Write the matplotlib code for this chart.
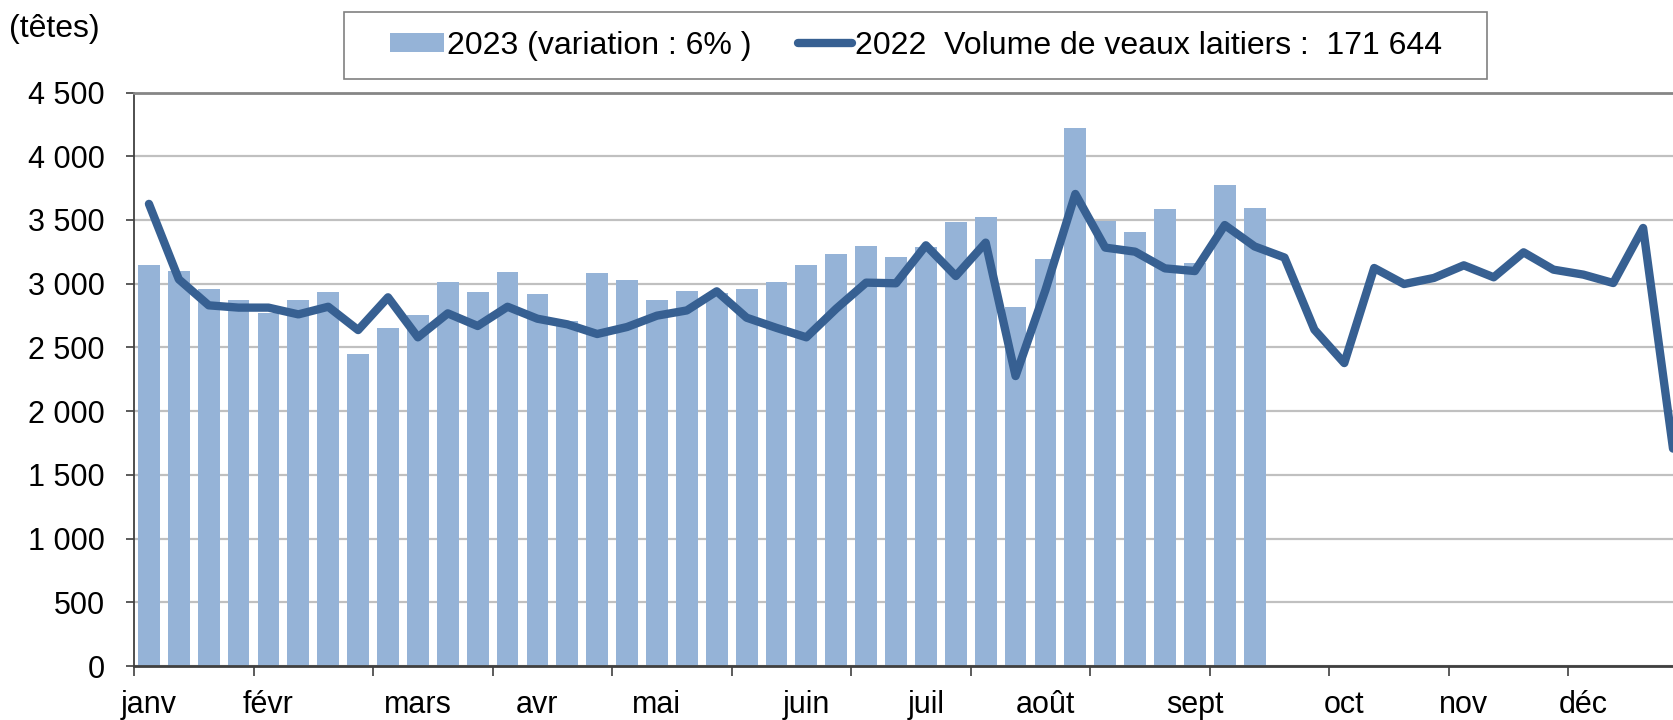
import matplotlib
matplotlib.use("Agg")
import matplotlib.pyplot as plt
from matplotlib.patches import Rectangle, Patch
from matplotlib.lines import Line2D
import numpy as np

plt.rcParams['font.family'] = ['Liberation Sans', 'DejaVu Sans']

# weekly slaughter volumes (heads)
vol_2023 = [3144, 3102, 2955, 2874, 2772, 2874, 2935, 2448, 2652, 2757,
            3013, 2935, 3089, 2916, 2707, 3087, 3032, 2873, 2945, 2930,
            2959, 3017, 3149, 3236, 3293, 3207, 3285, 3484, 3521, 2814,
            3191, 4220, 3490, 3403, 3584, 3165, 3772, 3592]
vol_2022 = [3626, 3034, 2830, 2812, 2812, 2759, 2819, 2636, 2893, 2579,
            2767, 2668, 2819, 2725, 2681, 2605, 2660, 2749, 2790, 2940,
            2733, 2653, 2579, 2804, 3008, 3003, 3301, 3060, 3322, 2275,
            2950, 3704, 3283, 3251, 3120, 3099, 3460, 3292, 3205, 2639,
            2377, 3123, 2997, 3045, 3144, 3050, 3246, 3110, 3071, 3005,
            3437, 1706]
month_labels = ['janv', 'févr', 'mars', 'avr', 'mai', 'juin', 'juil',
                'août', 'sept', 'oct', 'nov', 'déc']
month_weeks = [0, 4, 9, 13, 17, 22, 26, 30, 35, 40, 44, 48]

label_2023 = '2023 (variation : 6% )'
label_2022 = '2022  Volume de veaux laitiers :  171 644'

bar_color = '#95B3D7'
line_color = '#376092'

W, H = 1673, 720
fig = plt.figure(figsize=(W / 100, H / 100), dpi=100)
ax = fig.add_axes([134 / W, 1 - 666 / H, 1 - 134 / W, (666 - 92.5) / H])

ax.bar(np.arange(len(vol_2023)), vol_2023, width=0.73, color=bar_color, zorder=2)
ax.plot(np.arange(len(vol_2022)), vol_2022, color=line_color, lw=6,
        solid_capstyle='round', solid_joinstyle='round', zorder=3, clip_on=False)

ax.set_xlim(-0.5, 51.0)
ax.set_ylim(0, 4500)

# y axis
yt = np.arange(0, 4501, 500)
ax.set_yticks(yt)
ax.set_yticklabels([f'{v:,}'.replace(',', ' ') for v in yt])
ax.tick_params(axis='y', direction='out', length=6, width=1.2, color='#404040',
               labelsize=22, pad=15)
ax.yaxis.grid(True, color='#C0C0C0', lw=1.6)
ax.set_axisbelow(True)

# x axis: tick marks every 4 weeks, month names on their first week
ax.set_xticks(np.arange(-0.5, 51, 4))
ax.set_xticklabels([])
ax.set_xticks(month_weeks, minor=True)
ax.set_xticklabels(month_labels, minor=True)
ax.tick_params(axis='x', which='major', direction='out', length=7.5, width=1.2,
               color='#404040')
ax.tick_params(axis='x', which='minor', length=0, labelsize=22, pad=17.5)

ax.spines['right'].set_visible(False)
ax.spines['top'].set_color('#868686')
ax.spines['top'].set_linewidth(2)
ax.spines['left'].set_color('#404040')
ax.spines['left'].set_linewidth(1.3)
ax.spines['bottom'].set_color('#404040')
ax.spines['bottom'].set_linewidth(2)

fig.text(9 / W, 1 - 29 / H, '(têtes)', fontsize=23, ha='left', va='center')

# legend box
fig.patches.append(Rectangle((344 / W, 1 - 79 / H), (1487 - 344) / W, 67 / H,
                             transform=fig.transFigure, facecolor='white',
                             edgecolor='#808080', lw=1.2))
handles = [Patch(facecolor=bar_color, edgecolor='none'),
           Line2D([0], [0], color=line_color, lw=6, solid_capstyle='round')]
fig.legend(handles, [label_2023, label_2022], loc='center left',
           bbox_to_anchor=(390 / W, 1 - 46 / H), ncol=2, frameon=False,
           fontsize=23, handlelength=1.7, handleheight=0.56,
           handletextpad=0.08, columnspacing=1.45, borderpad=0, borderaxespad=0)

fig.savefig('out.png', dpi=100)
